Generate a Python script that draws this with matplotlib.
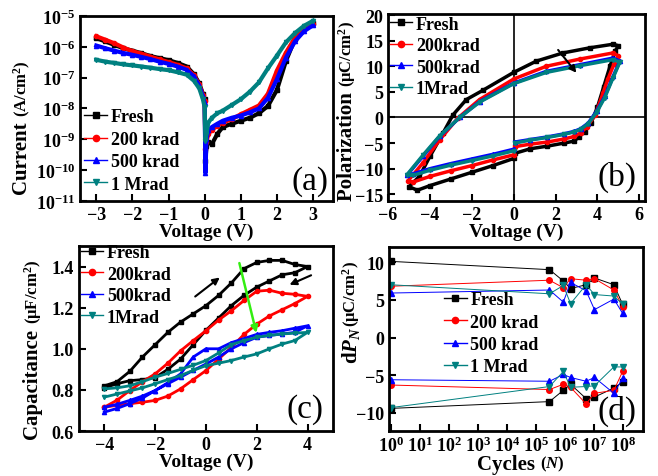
import numpy as np
import matplotlib
matplotlib.use("Agg")
from matplotlib import pyplot as plt

plt.rcParams['font.family'] = ['Liberation Serif', 'DejaVu Serif']
plt.rcParams['font.weight'] = 'bold'
plt.rcParams['axes.labelweight'] = 'bold'
plt.rcParams['mathtext.fontset'] = 'custom'
plt.rcParams['mathtext.rm'] = 'Liberation Serif:bold'
plt.rcParams['mathtext.bf'] = 'Liberation Serif:bold'
plt.rcParams['mathtext.it'] = 'Liberation Serif:italic:bold'
plt.rcParams['mathtext.default'] = 'rm'

TEAL = '#008080'
colors = ['black', 'red', 'blue', TEAL]
markers = ['s', 'o', '^', 'v']

# ---------- (a) I-V ----------
va = [-3.0, -2.75, -2.5, -2.25, -2.0, -1.75, -1.5, -1.25, -1.0, -0.75, -0.5, -0.3, -0.15, -0.05, 0.0,
      0.02, 0.05, 0.1, 0.2, 0.35, 0.5, 0.75, 1.0, 1.25, 1.5, 1.75, 2.0, 2.25, 2.5, 2.75, 3.0]
ia_fresh = [1.9e-6, 1.5e-6, 1.15e-6, 9e-7, 7.5e-7, 6.2e-7, 5e-7, 4.3e-7, 3.7e-7, 3e-7, 2.3e-7, 1.3e-7, 6.5e-8, 3e-8, 2e-8,
            2e-10, 6e-10, 8e-10, 7e-10, 1.5e-9, 2.5e-9, 3.2e-9, 4e-9, 5e-9, 7e-9, 1.2e-8, 4e-8, 3.5e-7, 1.8e-6, 4e-6, 6e-6]
ia_200k = [2.2e-6, 1.7e-6, 1.3e-6, 9.5e-7, 7.2e-7, 6e-7, 4.8e-7, 3.9e-7, 3.2e-7, 2.6e-7, 2e-7, 1.2e-7, 6e-8, 2.8e-8, 1.8e-8,
           5e-10, 8e-10, 1.5e-9, 2e-9, 2.8e-9, 3.5e-9, 4.5e-9, 6.5e-9, 9e-9, 1.25e-8, 3e-8, 1.7e-7, 6.5e-7, 2e-6, 3.8e-6, 5.6e-6]
ia_500k = [1.1e-6, 9e-7, 7.5e-7, 6.3e-7, 5.5e-7, 4.7e-7, 4e-7, 3.3e-7, 2.8e-7, 2.3e-7, 1.8e-7, 1.1e-7, 5.5e-8, 2.5e-8, 1.5e-8,
           8e-11, 1e-9, 2e-9, 2.5e-9, 3.2e-9, 4e-9, 5e-9, 5.9e-9, 7.5e-9, 1e-8, 2.2e-8, 9e-8, 4.5e-7, 1.5e-6, 3.2e-6, 5e-6]
ia_1M = [3.8e-7, 3.3e-7, 3e-7, 2.7e-7, 2.5e-7, 2.3e-7, 2.1e-7, 1.9e-7, 1.75e-7, 1.5e-7, 1.25e-7, 8e-8, 4.5e-8, 2e-8, 1.1e-8,
         9e-10, 1.5e-9, 3.5e-9, 5e-9, 7e-9, 8.5e-9, 1.3e-8, 2e-8, 3.5e-8, 7e-8, 2e-7, 5.2e-7, 1.4e-6, 2.8e-6, 4.8e-6, 7e-6]

# ---------- (b) P-V loops ----------
vb_fresh = [0.05, 0.8, 1.6, 2.4, 2.9, 3.1, 3.4, 3.7, 4.0, 4.3, 4.6, 4.85, 5.0,
            4.75, 3.64, 2.36, 1.08, 0.0, -1.47, -2.26, -2.9, -3.38, -4.0, -4.5, -5.0,
            -4.6, -4.0, -3.0, -2.0, -1.0, 0.0]
pb_fresh = [-7.0, -6.1, -5.6, -5.0, -4.6, -3.8, -2.8, -1.0, 2.0, 6.0, 10.0, 13.0, 14.0,
            14.3, 13.6, 12.6, 11.0, 8.8, 5.3, 3.5, 0.5, -3.1, -7.6, -11.5, -13.5,
            -14.2, -13.3, -12.0, -10.7, -9.4, -8.0]
vb_200k = [0.05, 0.8, 1.6, 2.4, 2.9, 3.2, 3.5, 3.9, 4.27, 4.5, 4.8, 5.0,
           4.75, 3.16, 1.56, 0.0, -1.63, -2.66, -3.54, -4.34, -5.05,
           -4.8, -4.0, -3.0, -2.0, -1.0, 0.0]
pb_200k = [-5.7, -5.2, -4.8, -4.2, -3.7, -3.0, -1.8, 0.5, 4.8, 7.5, 10.5, 12.0,
           12.6, 11.4, 10.0, 7.5, 3.5, -0.1, -4.4, -8.9, -12.4,
           -12.6, -11.5, -10.4, -9.4, -8.3, -7.3]
vb_500k = [0.05, 0.8, 1.6, 2.4, 2.9, 3.2, 3.56, 3.96, 4.35, 4.75, 5.07,
           4.75, 3.16, 1.56, 0.0, -1.63, -2.58, -3.54, -4.34, -5.1,
           -4.8, -4.0, -3.0, -2.0, -1.0, 0.0]
pb_500k = [-4.8, -4.3, -3.8, -3.2, -2.7, -2.2, -1.1, 1.2, 4.1, 8.0, 11.0,
           11.6, 10.3, 9.0, 6.7, 3.1, 0.0, -3.7, -7.6, -11.3,
           -11.0, -10.0, -9.0, -8.1, -7.2, -6.2]
vb_1M = [0.05, 0.8, 1.6, 2.4, 2.9, 3.2, 3.56, 3.96, 4.35, 4.75, 5.07,
         4.75, 3.16, 1.56, 0.0, -1.63, -2.58, -3.54, -4.34, -5.1,
         -4.8, -4.0, -3.0, -2.0, -1.0, 0.0]
pb_1M = [-5.0, -4.4, -3.9, -3.3, -2.8, -2.3, -1.2, 1.0, 3.9, 7.8, 10.8,
         11.3, 10.1, 8.8, 6.6, 3.0, 0.0, -3.6, -7.4, -11.2,
         -11.3, -10.3, -9.3, -8.4, -7.5, -6.5]

# ---------- (c) C-V loops (sweep -4 -> 4 -> -4) ----------
vc = [-4, -3.5, -3, -2.5, -2, -1.5, -1, -0.5, 0, 0.5, 1, 1.5, 2, 2.5, 3, 3.5, 4,
      3.5, 3, 2.5, 2, 1.5, 1, 0.5, 0, -0.5, -1, -1.5, -2, -2.5, -3, -3.5, -4]
cc_fresh = [0.82, 0.84, 0.89, 0.96, 1.02, 1.08, 1.13, 1.17, 1.21, 1.26, 1.32, 1.39, 1.42, 1.43, 1.43, 1.41, 1.40,
            1.37, 1.36, 1.33, 1.30, 1.26, 1.21, 1.15, 1.09, 1.02, 0.95, 0.90, 0.86, 0.85, 0.845, 0.83, 0.81]
cc_200k = [0.716, 0.75, 0.797, 0.84, 0.878, 0.93, 0.99, 1.04, 1.088, 1.14, 1.185, 1.235, 1.28, 1.285, 1.27, 1.265, 1.255,
           1.22, 1.19, 1.16, 1.12, 1.07, 1.007, 0.95, 0.894, 0.85, 0.805, 0.77, 0.749, 0.74, 0.733, 0.725, 0.716]
cc_500k = [0.692, 0.71, 0.733, 0.76, 0.797, 0.835, 0.878, 0.96, 1.0, 1.0, 1.03, 1.05, 1.07, 1.08, 1.088, 1.1, 1.112,
           1.08, 1.072, 1.065, 1.056, 1.03, 1.0, 0.96, 0.926, 0.895, 0.862, 0.83, 0.797, 0.77, 0.749, 0.73, 0.716]
cc_1M = [0.805, 0.81, 0.82, 0.84, 0.862, 0.88, 0.90, 0.92, 0.943, 0.98, 1.02, 1.04, 1.056, 1.065, 1.072, 1.076, 1.08,
         1.04, 1.023, 1.0, 0.975, 0.96, 0.943, 0.93, 0.918, 0.895, 0.87, 0.85, 0.83, 0.81, 0.795, 0.78, 0.765]

# ---------- (d) fatigue ----------
cycles = [1, 3e5, 9e5, 1.6e6, 5.5e6, 1.07e7, 5e7, 1e8]
up_fresh = [10.1, 9.0, 7.5, 6.5, 7.0, 7.9, 7.0, 4.4]
up_200k = [6.8, 7.6, 6.6, 7.8, 7.6, 7.8, 6.3, 4.1]
up_500k = [5.9, 6.3, 4.7, 7.3, 6.2, 3.7, 5.1, 3.2]
up_1M = [7.0, 5.8, 6.9, 4.5, 7.0, 5.7, 5.5, 4.4]
dn_fresh = [-9.4, -8.5, -7.0, -6.2, -8.1, -7.9, -6.7, -5.9]
dn_200k = [-6.3, -6.9, -6.2, -6.6, -8.8, -7.4, -7.0, -4.5]
dn_500k = [-5.6, -5.8, -4.9, -5.3, -5.8, -5.3, -7.4, -5.4]
dn_1M = [-9.3, -6.5, -4.5, -6.6, -6.5, -6.4, -3.9, -3.9]

labels_sp = ['Fresh', '200 krad', '500 krad', '1 Mrad']
labels_ns = ['Fresh', '200krad', '500krad', '1Mrad']

fig = plt.figure(figsize=(6.58, 4.77), dpi=100)
axa = fig.add_axes([0.1216, 0.5765, 0.3844, 0.3879])
axb = fig.add_axes([0.5897, 0.5765, 0.3905, 0.3921])
axc = fig.add_axes([0.1200, 0.0943, 0.3860, 0.3879])
axd = fig.add_axes([0.5912, 0.0943, 0.3858, 0.3857])


def style(ax):
    for s in ax.spines.values():
        s.set_linewidth(2)
    ax.tick_params(direction='in', which='major', length=5, width=1.5, labelsize=13)
    ax.tick_params(direction='in', which='minor', length=3, width=1)
    for t in ax.get_xticklabels() + ax.get_yticklabels():
        t.set_fontweight('bold')


def leg(ax, anchor, spacing):
    lg = ax.legend(loc='upper left', bbox_to_anchor=anchor, frameon=False, fontsize=13,
                   handlelength=1.25, handletextpad=0.2, labelspacing=spacing,
                   borderpad=0.1, borderaxespad=0)
    for ln in lg.get_lines():
        ln.set_linewidth(1)
        ln.set_markersize(4.5)


def ylab(ax, main, sub, x, y):
    # big word plus smaller unit above it, like the original
    ax.set_ylabel(main, fontsize=15)
    ax.yaxis.set_label_coords(x, y)
    ax.annotate(sub, xy=(0.5, 1.0), xycoords=ax.yaxis.label, ha='center', va='bottom',
                rotation=90, fontsize=12, fontweight='bold')


# (a)
for y, c, m, lab in zip([ia_fresh, ia_200k, ia_500k, ia_1M], colors, markers, labels_sp):
    axa.plot(va, y, color=c, marker=m, ms=3, lw=3, label=lab)
axa.set_yscale('log')
axa.set_ylim(1e-11, 1e-5)
axa.set_xlim(-3.45, 3.55)
axa.set_xticks([-3, -2, -1, 0, 1, 2, 3])
axa.set_yticks([10.0 ** k for k in range(-11, -4)])
axa.set_xlabel('Voltage (V)', fontsize=14, labelpad=0)
ylab(axa, 'Current ', '(A/cm$^2$)', -0.19, 0.25)
style(axa)
leg(axa, (0.01, 0.51), 0.3)
axa.text(0.91, 0.11, '(a)', transform=axa.transAxes, fontsize=24, fontweight='normal',
         ha='center', va='center')

# (b)
for x, y, c, m, lab in zip([vb_fresh, vb_200k, vb_500k, vb_1M], [pb_fresh, pb_200k, pb_500k, pb_1M],
                           colors, markers, labels_ns):
    axb.plot(x, y, color=c, marker=m, ms=3, lw=2.5, label=lab)
axb.axhline(0, color='black', lw=1.2, zorder=0)
axb.axvline(0, color='black', lw=1.2, zorder=0)
axb.annotate('', xy=(3.08, 8.3), xytext=(2.04, 13.6),
             arrowprops=dict(arrowstyle='-|>', color='black', lw=1.5, mutation_scale=10))
axb.set_xlim(-6, 6.27)
axb.set_ylim(-16.3, 20.2)
axb.set_xticks([-6, -4, -2, 0, 2, 4, 6])
axb.set_yticks([-15, -10, -5, 0, 5, 10, 15, 20])
axb.set_xlabel('Voltage (V)', fontsize=14, labelpad=0)
ylab(axb, 'Polarization ', '(μC/cm$^2$)', -0.12, 0.31)
style(axb)
leg(axb, (0.0, 1.0), 0.25)
axb.text(0.89, 0.13, '(b)', transform=axb.transAxes, fontsize=24, fontweight='normal',
         ha='center', va='center')

# (c)
for y, c, m, lab in zip([cc_fresh, cc_200k, cc_500k, cc_1M], colors, markers, labels_ns):
    axc.plot(vc, y, color=c, marker=m, ms=3, lw=2, label=lab)
axc.annotate('', xy=(0.63, 1.355), xytext=(-0.51, 1.246),
             arrowprops=dict(arrowstyle='-|>', color='black', lw=1.5, mutation_scale=10))
axc.annotate('', xy=(3.19, 1.306), xytext=(4.24, 1.363),
             arrowprops=dict(arrowstyle='-|>', color='black', lw=1.5, mutation_scale=10))
axc.annotate('', xy=(2.01, 1.064), xytext=(1.29, 1.43),
             arrowprops=dict(arrowstyle='-|>', color='#33ee11', lw=1.8, mutation_scale=10))
axc.set_xlim(-5, 5)
axc.set_ylim(0.6, 1.5)
axc.set_xticks([-4, -2, 0, 2, 4])
axc.set_yticks([0.6, 0.8, 1.0, 1.2, 1.4])
axc.set_yticklabels(['0.6', '0.8', '1.0', '1.2', '1.4'])
axc.set_xlabel('Voltage (V)', fontsize=14, labelpad=0)
ylab(axc, 'Capacitance ', '(μF/cm$^2$)', -0.142, 0.27)
style(axc)
leg(axc, (0.0, 1.02), 0.25)
axc.text(0.89, 0.12, '(c)', transform=axc.transAxes, fontsize=24, fontweight='normal',
         ha='center', va='center')

# (d)
for yu, yd, c, m, lab in zip([up_fresh, up_200k, up_500k, up_1M], [dn_fresh, dn_200k, dn_500k, dn_1M],
                             colors, markers, labels_sp):
    axd.plot(cycles, yu, color=c, marker=m, ms=4, lw=0.7, label=lab)
    axd.plot(cycles, yd, color=c, marker=m, ms=4, lw=0.7)
axd.set_xscale('log')
axd.set_xlim(0.87, 5e8)
axd.set_ylim(-12.4, 12)
axd.set_xticks([10.0 ** k for k in range(0, 9)])
axd.set_yticks([-10, -5, 0, 5, 10])
axd.set_xlabel('Cycles ', fontsize=15, labelpad=0)
axd.xaxis.set_label_coords(0.47, -0.125)
axd.annotate('($\\it{N}$)', xy=(1.0, 0.05), xycoords=axd.xaxis.label, ha='left', va='bottom',
             fontsize=12, fontweight='bold')
ylab(axd, 'd$\\it{P}_{N}$ ', '(μC/cm$^2$)', -0.106, 0.47)
style(axd)
leg(axd, (0.21, 0.77), 0.3)
axd.text(0.9, 0.11, '(d)', transform=axd.transAxes, fontsize=24, fontweight='normal',
         ha='center', va='center')

fig.savefig('out.png', dpi=100)
